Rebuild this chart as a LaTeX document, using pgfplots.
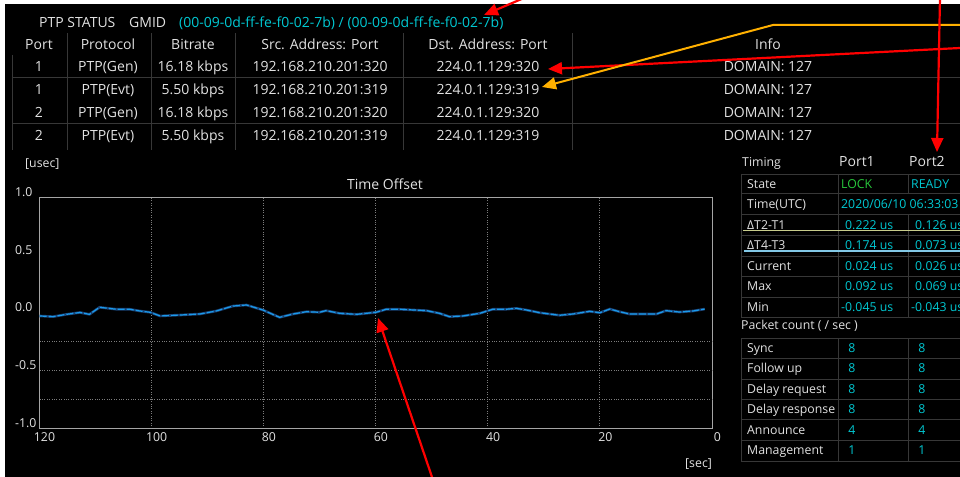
\documentclass[border=0pt]{standalone}
\usepackage{fontspec}
\setmainfont{Open Sans}
\usepackage{pgfplots}
\usepackage{pgfplotstable}
\pgfplotsset{compat=1.18}
\usetikzlibrary{arrows.meta}
\definecolor{txt}{RGB}{225,225,225}
\definecolor{cyanv}{RGB}{0,200,210}
\definecolor{lockg}{RGB}{40,200,60}
\definecolor{sep}{RGB}{55,55,55}
\definecolor{axgrey}{RGB}{165,165,165}
\definecolor{gridg}{RGB}{125,125,125}
\definecolor{darkb}{RGB}{25,65,115}
\definecolor{brightb}{RGB}{25,155,235}
\definecolor{arrred}{RGB}{255,0,0}
\definecolor{arrorange}{RGB}{255,176,0}
\definecolor{olivel}{RGB}{200,205,140}
\definecolor{lbluel}{RGB}{130,200,230}
\newcommand{\tf}{\fontsize{14bp}{16bp}\selectfont}
\newcommand{\rf}{\fontsize{12.3bp}{14bp}\selectfont}
\pgfplotstableread{
x y
119.9 -0.030
117.5 -0.036
115.1 -0.016
112.7 0.000
111.0 -0.016
109.2 0.045
106.2 0.028
103.8 0.028
102.0 0.013
100.2 0.002
98.4 -0.030
94.9 -0.022
91.3 -0.013
88.4 0.013
85.4 0.056
83.0 0.065
80.1 0.022
77.1 -0.042
74.7 -0.013
72.3 0.007
70.0 0.002
68.8 0.016
66.4 -0.007
63.4 -0.016
61.6 -0.007
59.9 0.002
58.1 0.028
55.7 0.028
53.3 0.022
50.9 0.016
48.6 -0.007
46.8 -0.036
44.4 -0.030
41.4 -0.007
39.1 0.028
36.7 0.028
34.9 0.036
33.1 0.022
30.7 -0.002
27.2 -0.024
24.8 -0.013
21.8 0.010
20.0 -0.002
18.2 0.030
16.5 0.007
14.7 -0.013
12.3 -0.013
9.9 -0.013
8.2 0.016
5.8 0.004
3.4 0.013
1.3 0.030
}\offsetdata
\begin{document}
\begin{tikzpicture}
\useasboundingbox (0,0) rectangle (960bp,477bp);
\fill[white] (0,0) rectangle (960bp,477bp);
\fill[black] (5bp,0) rectangle (960bp,473bp);

\begin{axis}[
  at={(39bp,49bp)}, anchor=south west,
  width=673bp, height=231bp, scale only axis,
  xmin=0, xmax=120, x dir=reverse, ymin=-1, ymax=1,
  axis line style={draw=axgrey, line width=0.9bp},
  xtick={0,20,40,60,80,100,120},
  xticklabels={0,20,40,60,80,100,120},
  ytick={-1,-0.5,0,0.5,1},
  yticklabels={-1.0,-0.5,0.0,0.5,1.0},
  tick style={draw=none},
  major tick length=0pt,
  xmajorgrids,
  grid style={gridg, dotted, line width=0.7bp},
  extra y ticks={-0.25,-0.5,-0.75},
  extra y tick labels={},
  extra y tick style={ymajorgrids=true, tick style={draw=none}},
  xticklabel style={font=\rf, text=txt, inner sep=0pt, anchor=north, xshift=5.5bp, yshift=-4.5bp},
  yticklabel style={font=\rf, text=txt, inner sep=0pt, anchor=west, xshift=-24bp, yshift=5bp},
  clip=true,
]
\addplot[color=darkb, line width=2.6bp, mark=none] table[x=x,y=y] {\offsetdata};
\addplot[color=brightb, line width=1.2bp, mark=none, dash pattern=on 7bp off 2bp] table[x=x,y=y] {\offsetdata};
\end{axis}

\begin{scope}[x=1bp, y=-1bp, shift={(0bp,477bp)}, every node/.style={text=txt, inner sep=0pt, yshift=-2.2bp}]
% header
\node[anchor=mid west, font=\tf] at (39,23) {PTP STATUS};
\node[anchor=mid west, font=\tf] at (129,23) {GMID};
\node[anchor=mid west, font=\tf, text=cyanv] at (179,23) {(00-09-0d-ff-fe-f0-02-7b) / (00-09-0d-ff-fe-f0-02-7b)};
% left table lines
\draw[sep, line width=0.8bp] (12,77) -- (962,77);
\draw[sep, line width=0.8bp] (12,123) -- (962,123);
\foreach \vx in {67,151,235,403,572} {\draw[sep, line width=0.8bp] (\vx,33) -- (\vx,150);}
\draw[sep, line width=0.8bp] (12,55) -- (12,150);
% header row
\foreach \cx/\tt in {39/Port,108/Protocol,193/Bitrate,320/{Src. Address: Port},488/{Dst. Address: Port},768/Info}
  {\node[anchor=mid, font=\tf] at (\cx,45) {\tt};}
% data rows
\foreach \ry/\pp/\pr/\br/\sp in {67/1/Gen/16.18/320, 90/1/Evt/5.50/319, 113/2/Gen/16.18/320, 136/2/Evt/5.50/319} {
  \node[anchor=mid, font=\tf] at (39,\ry) {\pp};
  \node[anchor=mid, font=\tf] at (108,\ry) {PTP(\pr)};
  \node[anchor=mid, font=\tf] at (193,\ry) {\br{} kbps};
  \node[anchor=mid, font=\tf] at (320,\ry) {192.168.210.201:\sp};
  \node[anchor=mid, font=\tf] at (488,\ry) {224.0.1.129:\sp};
  \node[anchor=mid, font=\tf] at (768,\ry) {DOMAIN: 127};
}
% plot labels
\node[anchor=mid west, font=\rf] at (25,163) {[usec]};
\node[anchor=mid, font=\tf] at (385,185) {Time Offset};
\node[anchor=mid west, font=\rf] at (685,463) {[sec]};
% right timing table
\node[anchor=mid west, font=\rf] at (742,162) {Timing};
\node[anchor=mid west, font=\tf] at (839,162) {Port1};
\node[anchor=mid west, font=\tf] at (909,162) {Port2};
\foreach \hy in {174,193,214,235,256,276,297,317} {\draw[sep, line width=0.8bp] (741,\hy) -- (962,\hy);}
\draw[sep, line width=0.8bp] (741,174) -- (741,317);
\draw[sep, line width=0.8bp] (838,174) -- (838,317);
\draw[sep, line width=0.8bp] (908,174) -- (908,193);
\draw[sep, line width=0.8bp] (908,214) -- (908,317);
\node[anchor=mid west, font=\rf] at (747,184) {State};
\node[anchor=mid west, font=\rf, text=lockg] at (841,184) {LOCK};
\node[anchor=mid west, font=\rf, text=cyanv] at (911,184) {READY};
\node[anchor=mid west, font=\rf] at (747,204) {Time(UTC)};
\node[anchor=mid west, font=\rf, text=cyanv] at (841,204) {2020/06/10 06:33:03};
\node[anchor=mid west, font=\rf] at (747,225) {ΔT2-T1};
\node[anchor=mid west, font=\rf, text=cyanv] at (845,225) {0.222 us};
\node[anchor=mid west, font=\rf, text=cyanv] at (915,225) {0.126 us};
\node[anchor=mid west, font=\rf] at (747,245) {ΔT4-T3};
\node[anchor=mid west, font=\rf, text=cyanv] at (845,245) {0.174 us};
\node[anchor=mid west, font=\rf, text=cyanv] at (915,245) {0.073 us};
\node[anchor=mid west, font=\rf] at (747,266) {Current};
\node[anchor=mid west, font=\rf, text=cyanv] at (845,266) {0.024 us};
\node[anchor=mid west, font=\rf, text=cyanv] at (915,266) {0.026 us};
\node[anchor=mid west, font=\rf] at (747,286) {Max};
\node[anchor=mid west, font=\rf, text=cyanv] at (845,286) {0.092 us};
\node[anchor=mid west, font=\rf, text=cyanv] at (915,286) {0.069 us};
\node[anchor=mid west, font=\rf] at (747,307) {Min};
\node[anchor=mid west, font=\rf, text=cyanv] at (841,307) {-0.045 us};
\node[anchor=mid west, font=\rf, text=cyanv] at (911,307) {-0.043 us};
\draw[olivel, line width=1.8bp] (743,230.5) -- (962,230.5);
\draw[lbluel, line width=1.8bp] (744,251) -- (962,251);
% packet count
\node[anchor=mid west, font=\rf] at (741,325) {Packet count ( / sec )};
\foreach \hy in {338,358,379,399,419,440,461} {\draw[sep, line width=0.8bp] (741,\hy) -- (962,\hy);}
\foreach \vx in {741,838,908} {\draw[sep, line width=0.8bp] (\vx,338) -- (\vx,461);}
\foreach \ry/\lab/\va in {348/Sync/8, 368/Follow up/8, 389/Delay request/8, 409/Delay response/8, 430/Announce/4, 450/Management/1} {
  \node[anchor=mid west, font=\rf] at (747,\ry) {\lab};
  \node[anchor=mid, font=\rf, text=cyanv] at (852,\ry) {\va};
  \node[anchor=mid, font=\rf, text=cyanv] at (922,\ry) {\va};
}
% annotation arrows
\draw[arrred, line width=2.2bp, -{Triangle[length=14bp,width=12bp]}] (524,-2) -- (484,15);
\draw[arrred, line width=2.2bp, -{Triangle[length=14bp,width=12bp]}] (964,47.8) -- (548,69);
\draw[arrorange, line width=2bp, -{Triangle[length=14bp,width=12bp]}] (964,25) -- (773,25) -- (542,87);
\draw[arrred, line width=2.2bp, -{Triangle[length=14bp,width=12bp]}] (940,-2) -- (937,152);
\draw[arrred, line width=2.2bp, -{Triangle[length=14bp,width=12bp]}] (433,480) -- (378,318);
\end{scope}
\end{tikzpicture}
\end{document}
